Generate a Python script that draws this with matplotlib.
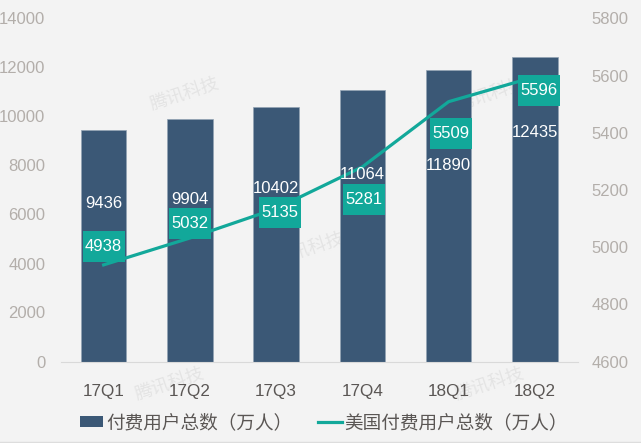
import matplotlib
matplotlib.use("Agg")
import matplotlib.pyplot as plt
from matplotlib.lines import Line2D
from matplotlib.patches import Patch, Rectangle
from matplotlib.offsetbox import AnnotationBbox, DrawingArea

plt.rcParams['font.family'] = ['Liberation Sans', 'Noto Sans CJK SC', 'DejaVu Sans']

quarters = ['17Q1', '17Q2', '17Q3', '17Q4', '18Q1', '18Q2']
paying_total = [9436, 9904, 10402, 11064, 11890, 12435]
paying_us = [4938, 5032, 5135, 5281, 5509, 5596]
left_ticks = [0, 2000, 4000, 6000, 8000, 10000, 12000, 14000]
right_ticks = [4600, 4800, 5000, 5200, 5400, 5600, 5800]
bar_name = '付费用户总数（万人）'
line_name = '美国付费用户总数（万人）'
watermark = '腾讯科技'

# label placement, pixels relative to each mark's value
bar_label_dy = [-73, -81, -82, -84, -95, -76]
box_dx = [0, 0, 4, 2, 2, 4]
box_dy = [18, 15, -4, -33, -32, -14]

W, H = 641, 443
BG = '#f3f3f3'
NAVY = '#3b5876'
TEAL = '#12a89a'
GREY = '#b3aeaa'
DARK = '#5a5654'

fig = plt.figure(figsize=(W / 100, H / 100), dpi=100, facecolor=BG)
ax = fig.add_axes([60.5 / W, 1 - 361.5 / H, (578 - 60.5) / W, (361.5 - 18.5) / H], facecolor='none')
ax2 = ax.twinx()
ax2.set_facecolor('none')
ax.set_zorder(1)
ax2.set_zorder(2)

x = list(range(len(quarters)))
ax.bar(x, paying_total, width=0.525, color=NAVY, edgecolor='#93a3b3', linewidth=0.5, zorder=2)
ax2.plot(x, paying_us, color=TEAL, lw=2.3, zorder=3)

ax.set_xlim(-0.5, 5.5)
ax.set_ylim(0, 14000)
ax2.set_ylim(4600, 5800)
ax.set_xticks(x, quarters)
ax.set_yticks(left_ticks)
ax2.set_yticks(right_ticks)

for a in (ax, ax2):
    for s in a.spines.values():
        s.set_visible(False)
ax.spines['bottom'].set_visible(True)
ax.spines['bottom'].set_color('#d9d9d9')
ax.tick_params(axis='x', length=0, pad=16, labelsize=12.3, labelcolor=DARK)
ax.tick_params(axis='y', length=0, pad=11, labelsize=12, labelcolor=GREY)
ax2.tick_params(axis='y', length=0, pad=10, labelsize=12, labelcolor=GREY)

# bars' values are drawn on the top axis, using the left scale
for xi, v, dy in zip(x, paying_total, bar_label_dy):
    ax2.annotate(str(v), (xi, v), xycoords=ax.transData, xytext=(0, dy), textcoords='offset pixels',
                 ha='center', va='center', color='white', fontsize=12, zorder=4)
for xi, v, dx, dy in zip(x, paying_us, box_dx, box_dy):
    da = DrawingArea(42 * 0.72, 31 * 0.72, 0, 0)
    da.add_artist(Rectangle((0, 0), 42 * 0.72, 31 * 0.72, fc=TEAL, ec='none'))
    ab = AnnotationBbox(da, (xi, v), xybox=(dx, dy), boxcoords='offset pixels', frameon=False, pad=0, zorder=5)
    ax2.add_artist(ab)
    ax2.annotate(str(v), (xi, v), xytext=(dx, dy), textcoords='offset pixels', ha='center', va='center',
                 color='white', fontsize=12, zorder=6)

# watermarks sit behind the axes
for wx, wy in [(185, 95), (492, 95), (170, 385), (310, 250), (490, 385)]:
    fig.text(wx / W, 1 - wy / H, watermark, rotation=18, ha='center', va='center', fontsize=13,
             color='#e4e4e4', zorder=0)

handles = [Patch(fc=NAVY, ec='none'), Line2D([], [], color=TEAL, lw=2.3)]
fig.legend(handles, [bar_name, line_name], loc='center', bbox_to_anchor=(324 / W, 1 - 423 / H), ncol=2, frameon=False,
           labelcolor=DARK, handlelength=1.25, handletextpad=0.15, columnspacing=1.4,
           handleheight=0.6, borderpad=0, prop={'family': ['Noto Sans CJK SC'], 'size': 13.4})
fig.add_artist(Line2D([0, 1], [1 - 441.5 / H] * 2, color='#dddddd', lw=1))

fig.savefig('out.png', dpi=100, facecolor=BG)
